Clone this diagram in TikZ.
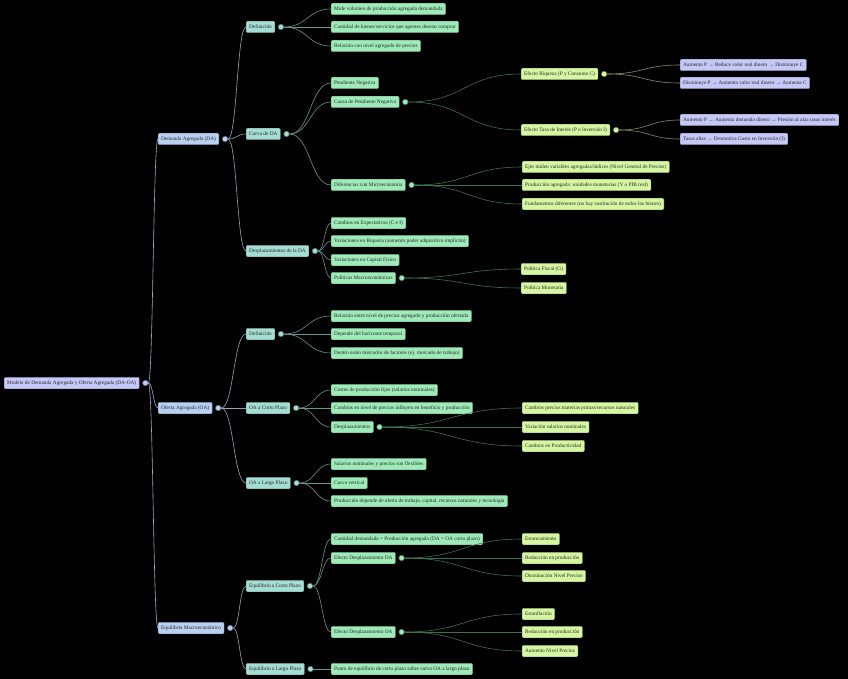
\documentclass[tikz,border=0pt]{standalone}
\usepackage{fontspec}
\setmainfont{Liberation Serif}
\usetikzlibrary{calc}
\definecolor{cRoot}{HTML}{C6C8F8}
\definecolor{cOne}{HTML}{B9D0F2}
\definecolor{cTwo}{HTML}{A4DDD2}
\definecolor{cThree}{HTML}{9EEBB9}
\definecolor{cFour}{HTML}{D6F7A2}
\definecolor{eRoot}{HTML}{A4A6C8}
\definecolor{eOne}{HTML}{98A4B6}
\definecolor{eTwo}{HTML}{6A968C}
\definecolor{eThree}{HTML}{3F6E54}
\definecolor{eFour}{HTML}{848F64}

\begin{document}
\begin{tikzpicture}[x=1pt, y=-1pt,
  box/.style={rounded corners=1.2pt, draw=#1!70!black, fill=#1, line width=0.3pt,
    anchor=west, minimum height=11.5pt, inner xsep=3pt, inner ysep=0pt,
    font=\fontsize{5.3}{6}\selectfont, text=black!85},
  dot/.style={circle, fill=#1, draw=#1!50!black, line width=0.5pt,
    inner sep=0pt, minimum size=5.5pt},
  link/.style={draw=#1, line width=0.6pt}]
  \fill[black] (0,0) rectangle (848,679);
  \useasboundingbox (0,0) rectangle (848,679);

  % root and first level
  \node[box=cRoot] (root) at (4,383) {Modelo de Demanda Agregada y Oferta Agregada (DA-OA)};
  \node[box=cOne] (da) at (158,139) {Demanda Agregada (DA)};
  \node[box=cOne] (oa) at (158,408) {Oferta Agregada (OA)};
  \node[box=cOne] (eq) at (158,628) {Equilibrio Macroeconómico};

  % demanda agregada
  \node[box=cTwo] (dadef) at (246,27) {Definición};
  \node[box=cTwo] (dacur) at (246,134) {Curva de DA};
  \node[box=cTwo] (dadesp) at (246,251) {Desplazamientos de la DA};
  \node[box=cThree] (dadef1) at (331,9) {Mide volumen de producción agregada demandada};
  \node[box=cThree] (dadef2) at (331,27) {Cantidad de bienes/servicios que agentes desean comprar};
  \node[box=cThree] (dadef3) at (331,46) {Relación con nivel agregado de precios};
  \node[box=cThree] (pend) at (331,83) {Pendiente Negativa};
  \node[box=cThree] (causa) at (331,102) {Causa de Pendiente Negativa};
  \node[box=cThree] (difer) at (331,185) {Diferencias con Microeconomía};
  \node[box=cFour] (riq) at (521,74) {Efecto Riqueza (P y Consumo C)};
  \node[box=cFour] (tasa) at (521,130) {Efecto Tasa de Interés (P e Inversión I)};
  \node[box=cRoot] (riq1) at (680,65) {Aumento P → Reduce valor real dinero → Disminuye C};
  \node[box=cRoot] (riq2) at (680,83) {Disminuye P → Aumenta valor real dinero → Aumenta C};
  \node[box=cRoot] (tasa1) at (680,120) {Aumento P → Aumenta demanda dinero → Presión al alza tasas interés};
  \node[box=cRoot] (tasa2) at (680,139) {Tasas altas → Desmotiva Gasto en Inversión (I)};
  \node[box=cFour] (difer1) at (522,167) {Ejes miden variables agregadas/índices (Nivel General de Precios)};
  \node[box=cFour] (difer2) at (522,185) {Producción agregada: unidades monetarias (Y o PIB real)};
  \node[box=cFour] (difer3) at (522,204) {Fundamentos diferentes (no hay sustitución de todos los bienes)};
  \node[box=cThree] (desp1) at (331,223) {Cambios en Expectativas (C e I)};
  \node[box=cThree] (desp2) at (331,241) {Variaciones en Riqueza (aumento poder adquisitivo implícito)};
  \node[box=cThree] (desp3) at (331,260) {Variaciones en Capital Físico};
  \node[box=cThree] (pol) at (331,278) {Políticas Macroeconómicas};
  \node[box=cFour] (pol1) at (521,269) {Política Fiscal (G)};
  \node[box=cFour] (pol2) at (521,288) {Política Monetaria};

  % oferta agregada
  \node[box=cTwo] (oadef) at (246,334) {Definición};
  \node[box=cTwo] (oacp) at (246,408) {OA a Corto Plazo};
  \node[box=cTwo] (oalp) at (246,483) {OA a Largo Plazo};
  \node[box=cThree] (oadef1) at (331,316) {Relación entre nivel de precios agregado y producción ofertada};
  \node[box=cThree] (oadef2) at (331,334) {Depende del horizonte temporal};
  \node[box=cThree] (oadef3) at (331,353) {Dentro están mercados de factores (ej. mercado de trabajo)};
  \node[box=cThree] (cp1) at (331,390) {Costes de producción fijos (salarios nominales)};
  \node[box=cThree] (cp2) at (331,408) {Cambios en nivel de precios influyen en beneficio y producción};
  \node[box=cThree] (cpdesp) at (331,427) {Desplazamientos};
  \node[box=cFour] (cpd1) at (522,408) {Cambios precios materias primas/recursos naturales};
  \node[box=cFour] (cpd2) at (522,427) {Variación salarios nominales};
  \node[box=cFour] (cpd3) at (522,446) {Cambios en Productividad};
  \node[box=cThree] (lp1) at (331,464) {Salarios nominales y precios son flexibles};
  \node[box=cThree] (lp2) at (331,483) {Curva vertical};
  \node[box=cThree] (lp3) at (331,501) {Producción depende de oferta de trabajo, capital, recursos naturales y tecnología};

  % equilibrio
  \node[box=cTwo] (eqcp) at (246,586) {Equilibrio a Corto Plazo};
  \node[box=cTwo] (eqlp) at (246,669) {Equilibrio a Largo Plazo};
  \node[box=cThree] (ecp1) at (331,539) {Cantidad demandada = Producción agregada (DA = OA corto plazo)};
  \node[box=cThree] (efda) at (331,558) {Efecto Desplazamiento DA};
  \node[box=cThree] (efoa) at (331,632) {Efecto Desplazamiento OA};
  \node[box=cFour] (efda1) at (522,539) {Estancamiento};
  \node[box=cFour] (efda2) at (522,558) {Reducción en producción};
  \node[box=cFour] (efda3) at (522,576) {Disminución Nivel Precios};
  \node[box=cFour] (efoa1) at (522,614) {Estanflación};
  \node[box=cFour] (efoa2) at (522,632) {Reducción en producción};
  \node[box=cFour] (efoa3) at (522,651) {Aumento Nivel Precios};
  \node[box=cThree] (elp1) at (331,669) {Punto de equilibrio de corto plazo sobre curva OA a largo plazo};

  % dots
  \foreach \n/\c in {root/cRoot, da/cOne, oa/cOne, eq/cOne,
      dadef/cTwo, dacur/cTwo, dadesp/cTwo, oadef/cTwo, oacp/cTwo, oalp/cTwo, eqcp/cTwo, eqlp/cTwo,
      causa/cThree, difer/cThree, pol/cThree, cpdesp/cThree, efda/cThree, efoa/cThree,
      riq/cFour, tasa/cFour}
    \node[dot=\c] (\n-d) at ([xshift=6pt]\n.east) {};

  % links
  \foreach \src/\e/\cs in {root/eRoot/{da,oa,eq},
      da/eOne/{dadef,dacur,dadesp}, oa/eOne/{oadef,oacp,oalp}, eq/eOne/{eqcp,eqlp},
      dadef/eTwo/{dadef1,dadef2,dadef3}, dacur/eTwo/{pend,causa,difer},
      dadesp/eTwo/{desp1,desp2,desp3,pol}, oadef/eTwo/{oadef1,oadef2,oadef3},
      oacp/eTwo/{cp1,cp2,cpdesp}, oalp/eTwo/{lp1,lp2,lp3},
      eqcp/eTwo/{ecp1,efda,efoa}, eqlp/eTwo/{elp1},
      causa/eThree/{riq,tasa}, difer/eThree/{difer1,difer2,difer3},
      pol/eThree/{pol1,pol2}, cpdesp/eThree/{cpd1,cpd2,cpd3},
      efda/eThree/{efda1,efda2,efda3}, efoa/eThree/{efoa1,efoa2,efoa3},
      riq/eFour/{riq1,riq2}, tasa/eFour/{tasa1,tasa2}}
    \foreach \c in \cs
      \draw[link=\e] let \p1=(\src-d.east), \p2=(\c.west) in
        (\p1) .. controls ({(\x1+\x2)/2},\y1) and ({(\x1+\x2)/2},\y2) .. (\p2);
\end{tikzpicture}
\end{document}
